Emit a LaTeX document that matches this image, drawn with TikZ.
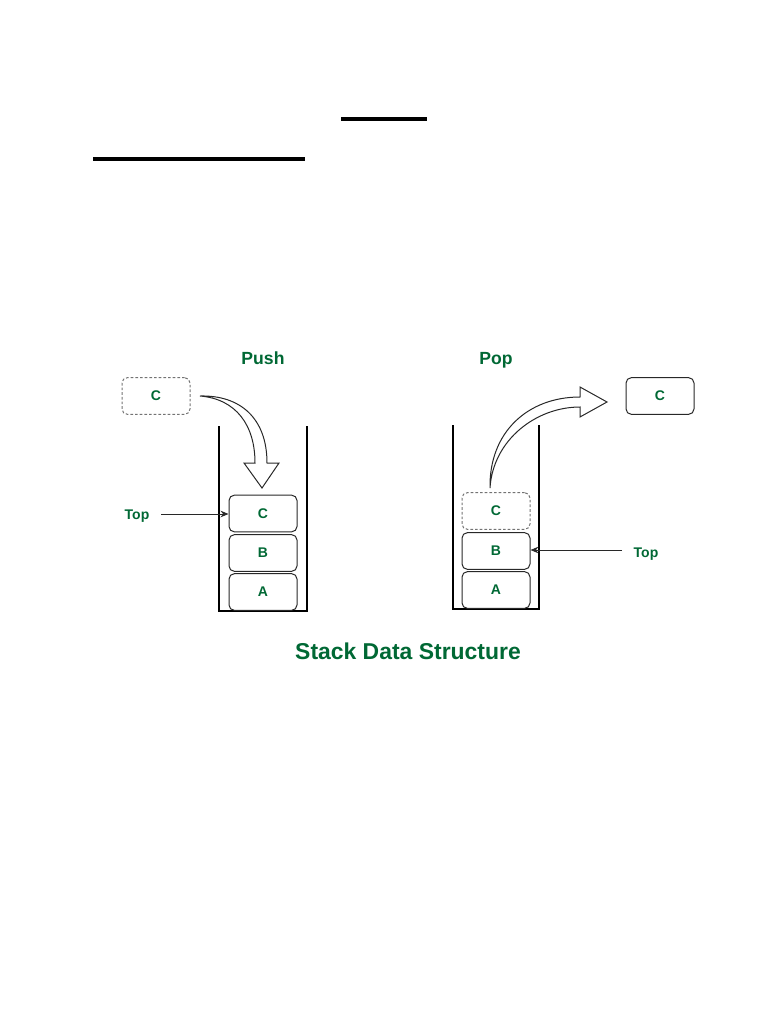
\documentclass[tikz,border=0pt]{standalone}
\usepackage{fontspec}
\setmainfont{Liberation Sans}
\usetikzlibrary{arrows.meta}
\definecolor{sgreen}{RGB}{0,104,52}
\definecolor{linegray}{RGB}{40,40,40}
\begin{document}
\begin{tikzpicture}[x=0.75pt,y=-0.75pt,
  item/.style={draw=linegray,line width=0.75pt,rounded corners=4pt,minimum width=51pt,minimum height=27.5pt,inner sep=0pt,font=\fontsize{10.5}{12}\selectfont\bfseries,text=sgreen},
  ghost/.style={item,dashed,draw=gray!90!black,dash pattern=on 2pt off 1.5pt},
  lbl/.style={text=sgreen,font=\fontsize{10.5}{12}\selectfont\bfseries,inner sep=0pt,anchor=base},
  head/.style={text=sgreen,font=\fontsize{13.2}{15}\selectfont\bfseries,inner sep=0pt,anchor=base},
  wall/.style={draw=black,line width=0.8pt},
  blockarrow/.style={draw=linegray,line width=0.75pt,fill=white,line join=miter},
  ptr/.style={draw=linegray,line width=0.75pt,-{Stealth[length=6pt,width=5pt]}},
  rule/.style={draw=black,line width=2.3pt}]
\useasboundingbox (0,0) rectangle (768,1024);
% top rules
\draw[rule] (341,119) -- (427,119);
\draw[rule] (93,159) -- (305,159);
% headings
\node[head] (push) at (263,364) {Push};
\node[head] (pop) at (496,364) {Pop};
% push side
\node[ghost] (cin) at (156,396) {C};
\draw[wall] (219,426) -- (219,611) -- (307,611) -- (307,426);
\node[item] (c1) at (263,513.5) {C};
\node[item] (b1) at (263,553) {B};
\node[item] (a1) at (263,592) {A};
\node[lbl] (top1) at (137,519) {Top};
\coordinate (t1s) at (161,514);
\draw[ptr] (t1s) -- (c1.west |- t1s);
\coordinate (pa0) at (200,396);
\draw[blockarrow] (pa0) .. controls (240,395) and (267,418) .. (267,463)
  -- (279,463) -- (262,488) -- (244,463) -- (255,463)
  .. controls (255,425) and (236,399) .. (pa0) -- cycle;
% pop side
\draw[wall] (453,425) -- (453,609) -- (539,609) -- (539,425);
\node[ghost] (c2) at (496,511) {C};
\node[item] (b2) at (496,551) {B};
\node[item] (a2) at (496,590) {A};
\node[item] (cout) at (660,396) {C};
\node[lbl] (top2) at (646,557) {Top};
\coordinate (t2s) at (622,550);
\draw[ptr] (t2s) -- (b2.east |- t2s);
\coordinate (pb0) at (490,488);
\draw[blockarrow] (pb0) .. controls (489,432) and (528,397) .. (580,397)
  -- (580,387) -- (607,402) -- (580,417) -- (580,407)
  .. controls (536,407) and (493,440) .. (pb0) -- cycle;
% title
\node[text=sgreen,font=\fontsize{17.2}{20}\selectfont\bfseries,inner sep=0pt] (title) at (408,651) {Stack Data Structure};
\end{tikzpicture}
\end{document}
